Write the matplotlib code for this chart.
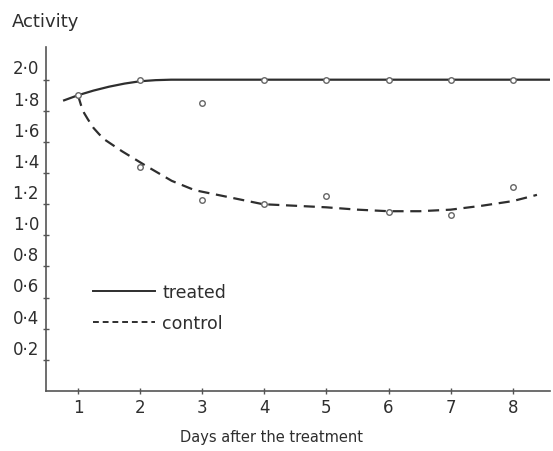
import matplotlib
matplotlib.use('Agg')
import matplotlib.pyplot as plt
from matplotlib.lines import Line2D
from matplotlib.transforms import ScaledTranslation

# measured points
days = [1, 2, 3, 4, 5, 6, 7, 8]
treated = [1.90, 2.00, 1.85, 2.00, 2.00, 2.00, 2.00, 2.00]
control = [1.90, 1.44, 1.23, 1.20, 1.25, 1.15, 1.13, 1.31]

# hand-drawn fitted curves
treated_fit_x = [0.76, 1.0, 1.25, 1.5, 1.75, 2.0, 2.25, 2.5, 3.0, 8.6]
treated_fit_y = [1.865, 1.90, 1.93, 1.955, 1.975, 1.99, 1.997, 2.0, 2.0, 2.0]
control_fit_x = [1.0, 1.05, 1.1, 1.16, 1.25, 1.34, 1.43, 1.71, 2.08, 2.51, 2.88, 3.37, 3.98, 4.5,
                 5.0, 5.5, 6.0, 6.5, 7.0, 7.5, 8.0, 8.39]
control_fit_y = [1.90, 1.835, 1.785, 1.745, 1.69, 1.65, 1.615, 1.54, 1.45, 1.35, 1.29, 1.25, 1.20,
                 1.19, 1.18, 1.165, 1.155, 1.155, 1.165, 1.19, 1.22, 1.26]

y_ticks = [0.2, 0.4, 0.6, 0.8, 1.0, 1.2, 1.4, 1.6, 1.8, 2.0]
y_labels = ['0·2', '0·4', '0·6', '0·8', '1·0', '1·2', '1·4', '1·6', '1·8', '2·0']

INK = '#2e2e2e'

fig = plt.figure(figsize=(5.53, 4.52), dpi=100)
fig.patch.set_facecolor('white')
ax = fig.add_axes([46 / 553, 60 / 452, 504 / 553, 344 / 452])

ax.plot(treated_fit_x, treated_fit_y, color=INK, linewidth=1.6, solid_capstyle='butt', zorder=2)
ax.plot(control_fit_x, control_fit_y, color=INK, linewidth=1.6, dashes=(5, 3), zorder=2)
ax.plot(days, treated, linestyle='none', marker='o', markersize=4,
        markerfacecolor='white', markeredgecolor='#666666', markeredgewidth=1.0, zorder=3)
ax.plot(days[1:], control[1:], linestyle='none', marker='o', markersize=4,
        markerfacecolor='white', markeredgecolor='#666666', markeredgewidth=1.0, zorder=3)

ax.set_xlim(0.485, 8.6)
ax.set_ylim(0, 2.21)
ax.set_xticks(days)
ax.set_xticklabels([str(d) for d in days])
ax.set_yticks(y_ticks)
ax.set_yticklabels(y_labels)

for side in ('top', 'right'):
    ax.spines[side].set_visible(False)
for side in ('left', 'bottom'):
    ax.spines[side].set_color('#555555')
    ax.spines[side].set_linewidth(1.2)

ax.tick_params(axis='both', direction='inout', length=4, width=1, color='#555555',
               labelcolor=INK, labelsize=12)
ax.tick_params(axis='x', pad=3)
ax.tick_params(axis='y', pad=3)

# labels sit above their tick marks
for lbl in ax.get_yticklabels():
    lbl.set_transform(lbl.get_transform() + ScaledTranslation(0, 9.5 / 72, fig.dpi_scale_trans))

fig.text(12 / 553, 1 - 22 / 452, 'Activity', fontsize=13, color=INK, va='center', ha='left')
fig.text(271 / 553, 1 - 438 / 452, 'Days after the treatment', fontsize=10.5, color=INK,
         va='center', ha='center')

handles = [Line2D([], [], color=INK, linewidth=1.4),
           Line2D([], [], color=INK, linewidth=1.4, dashes=(3, 2))]
ax.legend(handles, ['treated', 'control'], frameon=False, loc='upper left',
          bbox_to_anchor=(0.062, 0.358), handlelength=3.6, handletextpad=0.4,
          labelspacing=0.75, fontsize=12.5, labelcolor=INK)

fig.savefig('out.png', dpi=100, facecolor='white')
